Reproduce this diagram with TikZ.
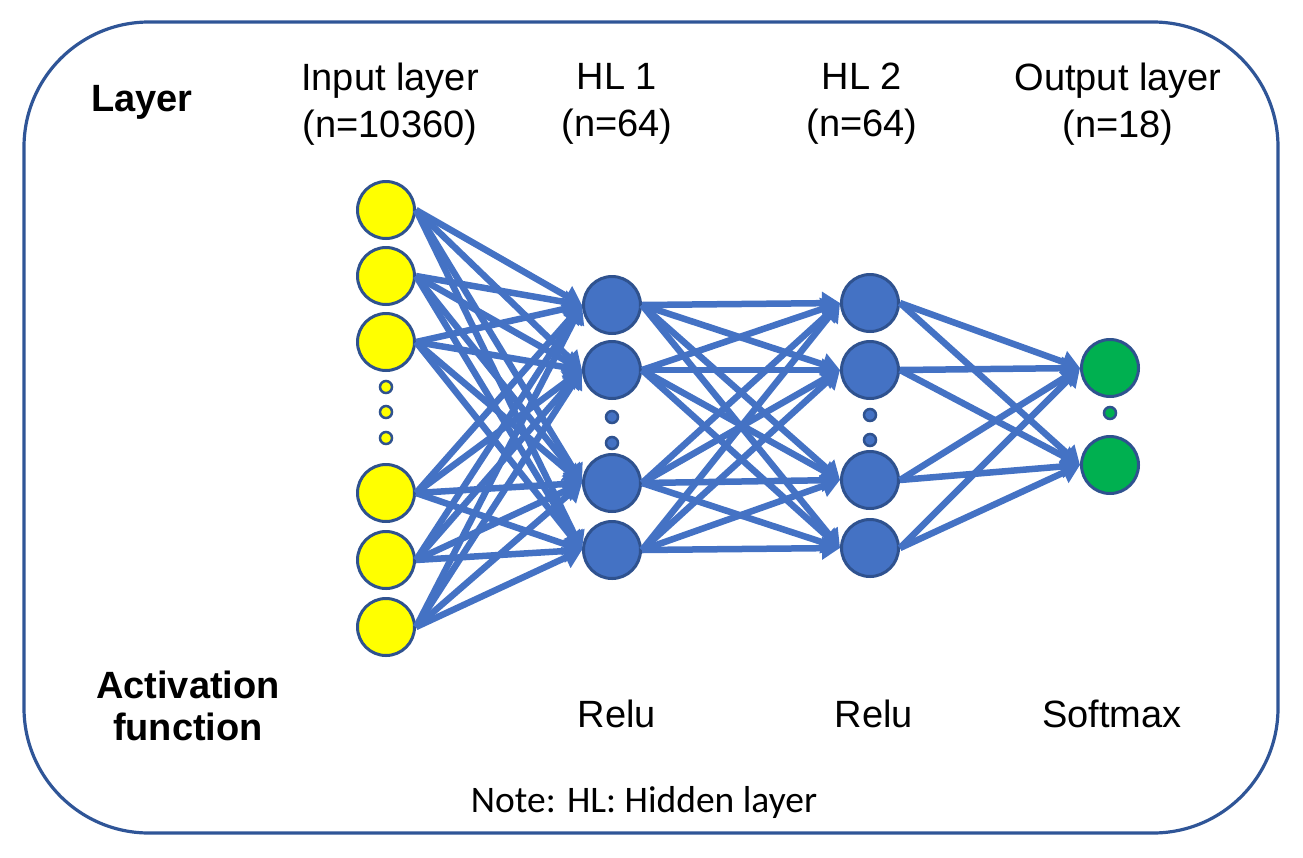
\documentclass[tikz,border=0pt]{standalone}
\usepackage{fontspec}
\setmainfont{Liberation Sans}
\newfontfamily\notefont{Carlito}
\usetikzlibrary{arrows.meta}
\definecolor{outl}{HTML}{2F528F}
\definecolor{boxc}{HTML}{2F5597}
\definecolor{lnk}{HTML}{4472C4}
\definecolor{yel}{HTML}{FFFF00}
\definecolor{blu}{HTML}{4472C4}
\definecolor{grn}{HTML}{00B050}
\tikzset{
  neuron/.style={circle, draw=outl, line width=3pt, minimum size=57pt, inner sep=0pt},
  inp/.style={neuron, fill=yel},
  hid/.style={neuron, fill=blu},
  outn/.style={neuron, fill=grn},
  smalldot/.style={circle, draw=outl, line width=2.5pt, minimum size=12pt, inner sep=0pt},
  conn/.style={draw=lnk, line width=6.5pt, -{Triangle[length=18pt,width=22pt]}},
  lbl/.style={align=center, font=\fontsize{38}{47}\selectfont, inner sep=0pt},
  blbl/.style={align=center, font=\fontsize{38}{42}\selectfont\bfseries, inner sep=0pt},
}
\begin{document}
\begin{tikzpicture}[x=1pt,y=-1pt]
\useasboundingbox (0,0) rectangle (1303,857);
\draw[boxc, line width=3.2pt, rounded corners=125pt] (24,22) rectangle (1278,833);

% input layer
\node[inp] (i1) at (386,210) {};
\node[inp] (i2) at (386,276) {};
\node[inp] (i3) at (386,342) {};
\node[smalldot, fill=yel] (id1) at (386,387) {};
\node[smalldot, fill=yel] (id2) at (386,412) {};
\node[smalldot, fill=yel] (id3) at (386,438) {};
\node[inp] (i4) at (386,493) {};
\node[inp] (i5) at (386,560) {};
\node[inp] (i6) at (386,627) {};

% hidden layer 1
\node[hid] (a1) at (612,305) {};
\node[hid] (a2) at (612,370) {};
\node[smalldot, fill=blu] (ad1) at (612,417) {};
\node[smalldot, fill=blu] (ad2) at (612,443) {};
\node[hid] (a3) at (612,483) {};
\node[hid] (a4) at (612,550) {};

% hidden layer 2
\node[hid] (b1) at (870,303) {};
\node[hid] (b2) at (870,370) {};
\node[smalldot, fill=blu] (bd1) at (870,415) {};
\node[smalldot, fill=blu] (bd2) at (870,440) {};
\node[hid] (b3) at (870,480) {};
\node[hid] (b4) at (870,548) {};

% output layer
\node[outn] (o1) at (1110,368) {};
\node[smalldot, fill=grn] (od1) at (1110,413) {};
\node[outn] (o2) at (1110,465) {};

% connections
\foreach \s in {i1,i2,i3,i4,i5,i6}
  \foreach \t in {a1,a2,a3,a4}
    \draw[conn] (\s.east) -- (\t.west);
\foreach \s in {a1,a2,a3,a4}
  \foreach \t in {b1,b2,b3,b4}
    \draw[conn] (\s.east) -- (\t.west);
\foreach \s in {b1,b2,b3,b4}
  \foreach \t in {o1,o2}
    \draw[conn] (\s.east) -- (\t.west);

% labels
\node[blbl] (lay) at (142,102) {Layer};
\node[lbl] (hin) at (390,104) {Input layer\\(n=10360)};
\node[lbl] (hh1) at (617,104) {HL 1\\(n=64)};
\node[lbl] (hh2) at (862,104) {HL 2\\(n=64)};
\node[lbl] (hout) at (1118,104) {Output layer\\(n=18)};
\node[blbl] (act) at (188,706) {Activation\\function};
\node[lbl] (r1) at (617,714) {Relu};
\node[lbl] (r2) at (874,714) {Relu};
\node[lbl] (sm) at (1112,714) {Softmax};
\node[inner sep=0pt, font=\notefont\fontsize{37.5}{44}\selectfont] (note) at (644,802) {Note: HL: Hidden layer};
\end{tikzpicture}
\end{document}
